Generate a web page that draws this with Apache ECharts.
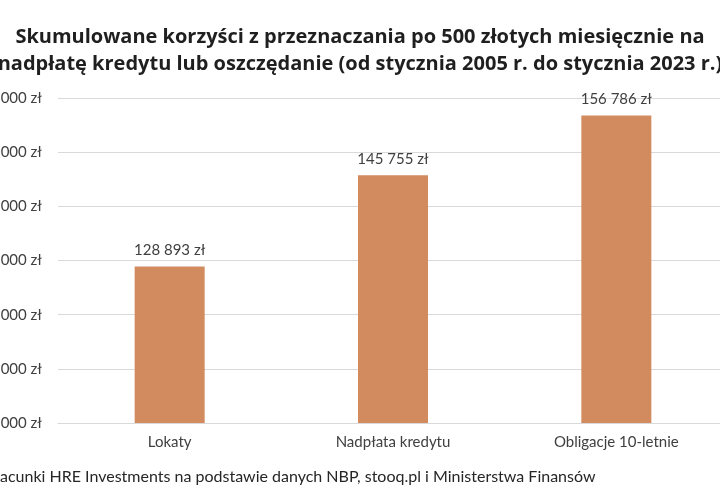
<!DOCTYPE html>
<html>
<head>
<meta charset="utf-8">
<script src="https://cdn.jsdelivr.net/npm/echarts@6/dist/echarts.min.js"></script>
<style>html,body{margin:0;padding:0;background:#fff}#c{width:720px;height:500px}</style>
</head>
<body>
<div id="c"></div>
<script>
const categories = ['Lokaty', 'Nadpłata kredytu', 'Obligacje 10-letnie'];
const values = [128893, 145755, 156786];
const yMin = 100000, yMax = 160000, yStep = 10000;
const titleText = 'Skumulowane korzyści z przeznaczania po 500 złotych miesięcznie na\nnadpłatę kredytu lub oszczędanie (od stycznia 2005 r. do stycznia 2023 r.)';
const sourceText = 'acunki HRE Investments na podstawie danych NBP, stooq.pl i Ministerstwa Finansów';

function fmt(v){ return String(Math.round(v)).replace(/\B(?=(\d{3})+(?!\d))/g, ' ') + ' zł'; }

const chart = echarts.init(document.getElementById('c'), null, {renderer:'canvas'});
const FONT = 'Lato, "Open Sans", sans-serif';
chart.setOption({
  animation: false,
  title: {
    text: titleText, left: 'center', top: 19,
    textStyle: {fontFamily: '"Open Sans", sans-serif', fontWeight: 'bold', fontSize: 20, color: '#1f1f1f', lineHeight: 27}
  },
  grid: {left: 58, right: -8, top: 98, bottom: 77, containLabel: false, outerBoundsMode: 'none'},
  xAxis: {
    type: 'category', data: categories,
    axisLine: {show: true, lineStyle: {color: '#d9d9d9'}},
    axisTick: {show: false},
    axisLabel: {fontFamily: FONT, fontSize: 15, color: '#404040', margin: 12}
  },
  yAxis: {
    type: 'value', min: yMin, max: yMax, interval: yStep,
    axisLine: {show: false}, axisTick: {show: false},
    splitLine: {lineStyle: {color: '#d9d9d9', width: 1}},
    axisLabel: {fontFamily: FONT, fontSize: 15, color: '#404040', margin: 16, formatter: fmt}
  },
  series: [{
    type: 'bar', data: values, barWidth: 70,
    itemStyle: {color: '#D18B5E'},
    label: {show: true, position: 'top', distance: 9, fontFamily: FONT, fontSize: 15, color: '#404040', formatter: p => fmt(p.value)}
  }],
  graphic: [{
    type: 'text', left: 0, top: 469,
    style: {text: sourceText, font: '16px ' + FONT, fill: '#262626'}
  }]
});
</script>
</body>
</html>
